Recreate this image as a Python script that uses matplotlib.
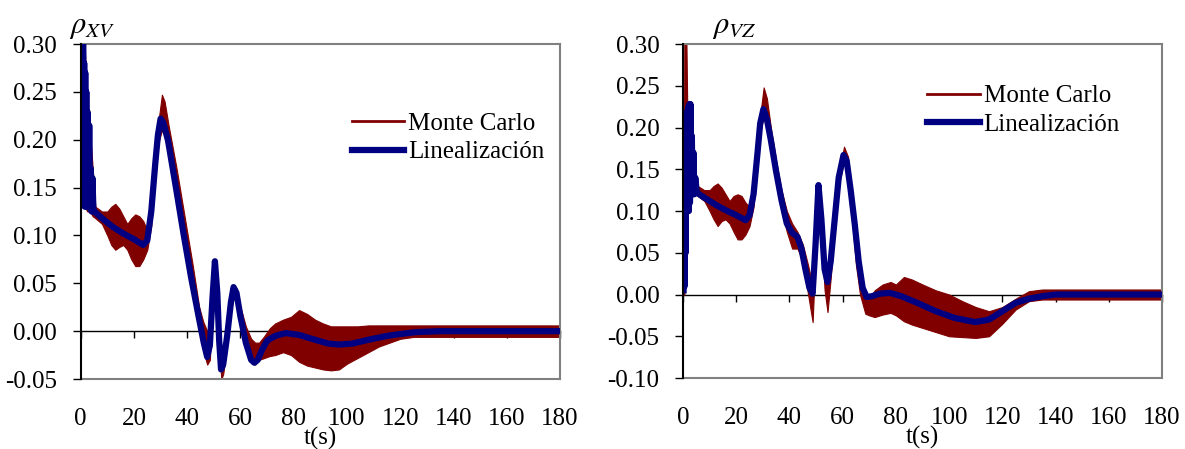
import matplotlib
matplotlib.use("Agg")
import matplotlib.pyplot as plt
from matplotlib.lines import Line2D

plt.rcParams['font.family'] = ['Liberation Serif', 'DejaVu Serif']
plt.rcParams['mathtext.fontset'] = 'stix'

# ---------------- data : rho_XV ----------------
t_lin_xv = [0.1, 0.3, 0.5, 0.7, 0.9, 1.1, 1.3, 1.5, 1.7, 1.9, 2.1, 2.3, 2.6, 2.9, 3.2, 3.5, 3.8, 4.1,
            4.4, 4.8, 5.5, 8, 12, 16, 20, 23.5, 25, 26.5, 28, 29, 30, 31, 32.8, 35.7, 38.6, 41.4, 44.3,
            46.2, 47.5, 48.5, 49.5, 50.4, 51.3, 52.0, 52.7, 53.5, 55, 56.4, 57.4, 58.5, 60, 62, 64, 65.2,
            66.5, 68, 70, 73, 77, 82, 88, 93, 97, 102, 108, 115, 120, 126, 135, 150, 165, 180]
lin_xv = [0.32, 0.14, 0.31, 0.135, 0.30, 0.135, 0.28, 0.13, 0.27, 0.135, 0.25, 0.13, 0.229, 0.13, 0.215,
          0.128, 0.17, 0.125, 0.16, 0.125, 0.124, 0.118, 0.109, 0.102, 0.096, 0.090, 0.095, 0.125, 0.175,
          0.205, 0.222, 0.218, 0.199, 0.151, 0.102, 0.057, 0.015, -0.012, -0.027, -0.015, 0.035, 0.073,
          0.04, -0.01, -0.040, -0.035, -0.005, 0.03, 0.046, 0.04, 0.015, -0.012, -0.03, -0.033, -0.03,
          -0.02, -0.01, -0.005, -0.002, -0.004, -0.009, -0.013, -0.014, -0.013, -0.009, -0.005, -0.003,
          -0.001, 0.0, 0.0, 0.0, 0.0]

t_mc_xv = [0.1, 0.5, 1.5, 2.5, 3.5, 4.5, 5.5, 8, 10, 11.5, 13, 14.5, 16, 17.5, 19, 20.5, 22, 23.5, 25,
           26.5, 28, 29, 30.5, 31.5, 33, 36, 39, 42, 44.5, 46, 47.5, 48.5, 49.5, 50.4, 51.3, 52, 52.8,
           53.5, 55, 56.4, 57.4, 58.5, 60, 62, 64, 65.5, 67, 69, 71, 73, 76, 79, 82, 85, 88, 91, 94, 97,
           100, 104, 108, 112, 116, 120, 125, 130, 180]
mc_xv_up = [0.32, 0.32, 0.30, 0.23, 0.21, 0.17, 0.13, 0.125, 0.125, 0.13, 0.133, 0.128, 0.12, 0.112,
            0.118, 0.122, 0.12, 0.115, 0.105, 0.13, 0.185, 0.215, 0.247, 0.24, 0.215, 0.17, 0.12, 0.07,
            0.025, 0.01, 0.0, 0.005, 0.04, 0.075, 0.05, 0.0, -0.03, -0.025, 0.005, 0.035, 0.048, 0.045,
            0.025, 0.005, -0.008, -0.012, -0.012, -0.005, 0.003, 0.008, 0.012, 0.015, 0.022, 0.018, 0.012,
            0.008, 0.005, 0.005, 0.005, 0.005, 0.006, 0.006, 0.006, 0.006, 0.006, 0.006, 0.006]
mc_xv_lo = [0.13, 0.13, 0.13, 0.125, 0.125, 0.12, 0.118, 0.112, 0.10, 0.09, 0.085, 0.088, 0.09, 0.085,
            0.075, 0.068, 0.068, 0.075, 0.085, 0.11, 0.165, 0.195, 0.21, 0.205, 0.19, 0.14, 0.09, 0.045,
            0.0, -0.02, -0.035, -0.03, 0.025, 0.065, 0.03, -0.02, -0.05, -0.045, -0.015, 0.02, 0.035,
            0.032, 0.005, -0.018, -0.03, -0.035, -0.03, -0.028, -0.026, -0.025, -0.022, -0.025, -0.032,
            -0.036, -0.038, -0.040, -0.041, -0.040, -0.034, -0.028, -0.022, -0.016, -0.012, -0.008,
            -0.006, -0.006, -0.006]

# ---------------- data : rho_VZ ----------------
t_lin_vz = [0.2, 0.4, 0.6, 0.8, 1.0, 1.2, 1.4, 1.6, 1.8, 2.0, 2.2, 2.4, 2.6, 2.8, 3.0, 3.3, 3.6, 3.9, 4.2,
            4.6, 5.2, 8, 12, 16, 20, 23.5, 25, 26.5, 28, 29, 30.2, 31.5, 33, 35, 37, 39, 41, 43, 44.5, 46,
            47.5, 48.7, 49.8, 50.9, 52, 53.2, 54.3, 55.5, 57, 58.5, 60.3, 61.5, 63, 64.5, 66, 67.5, 69, 71,
            74, 77.7, 82, 88, 95, 102, 109.8, 115, 120, 125, 130, 135, 140, 150, 165, 180]
lin_vz = [0.005, 0.18, 0.01, 0.20, 0.05, 0.21, 0.10, 0.22, 0.10, 0.225, 0.10, 0.228, 0.11, 0.228, 0.12,
          0.19, 0.12, 0.17, 0.12, 0.14, 0.122, 0.116, 0.108, 0.101, 0.095, 0.089, 0.095, 0.12, 0.17, 0.205,
          0.222, 0.21, 0.185, 0.147, 0.113, 0.085, 0.074, 0.069, 0.055, 0.03, 0.008, 0.001, 0.06, 0.131,
          0.09, 0.03, 0.015, 0.04, 0.09, 0.14, 0.167, 0.16, 0.125, 0.085, 0.04, 0.008, -0.003, -0.002,
          0.001, 0.002, -0.002, -0.01, -0.02, -0.028, -0.033, -0.030, -0.02, -0.01, -0.005, -0.002, 0.0,
          0.0, 0.0, 0.0]

t_mc_vz = [0.2, 0.5, 1.2, 1.6, 2.5, 3.5, 4.5, 5.5, 8, 10, 11.5, 13, 14.5, 16, 17.5, 19, 20.5, 22, 23.5,
           25, 26.5, 28, 29, 30.3, 31.5, 33, 35, 37, 39, 41, 43, 45, 47, 48.7, 49.8, 50.9, 52, 53.2, 54.3,
           55.5, 57, 58.5, 60.5, 62, 63.5, 65, 66.5, 68.5, 70, 72, 75, 78, 80, 83, 86, 90, 95, 100, 105,
           110, 115, 120, 125, 130, 135, 180]
mc_vz_up = [0.01, 0.32, 0.32, 0.22, 0.23, 0.19, 0.15, 0.13, 0.125, 0.125, 0.13, 0.133, 0.128, 0.12,
            0.112, 0.118, 0.12, 0.118, 0.11, 0.105, 0.125, 0.18, 0.215, 0.248, 0.235, 0.20, 0.16, 0.125,
            0.10, 0.085, 0.075, 0.06, 0.035, 0.01, 0.06, 0.13, 0.10, 0.04, 0.02, 0.045, 0.095, 0.145,
            0.177, 0.165, 0.12, 0.07, 0.03, 0.0, -0.005, 0.005, 0.012, 0.015, 0.012, 0.021, 0.018, 0.012,
            0.005, 0.0, -0.008, -0.015, -0.02, -0.015, -0.005, 0.004, 0.006, 0.006]
mc_vz_lo = [0.0, 0.0, 0.10, 0.10, 0.10, 0.12, 0.12, 0.118, 0.112, 0.10, 0.09, 0.082, 0.088, 0.09, 0.085,
            0.075, 0.066, 0.066, 0.072, 0.082, 0.105, 0.16, 0.195, 0.212, 0.20, 0.17, 0.135, 0.10, 0.075,
            0.055, 0.055, 0.04, 0.0, -0.033, 0.05, 0.12, 0.07, 0.005, -0.021, 0.02, 0.08, 0.13, 0.16,
            0.14, 0.09, 0.035, 0.0, -0.023, -0.025, -0.027, -0.024, -0.022, -0.025, -0.032, -0.036,
            -0.04, -0.045, -0.05, -0.051, -0.052, -0.05, -0.035, -0.018, -0.008, -0.006, -0.006]

xticks = [0, 20, 40, 60, 80, 100, 120, 140, 160, 180]
yticks_xv = [-0.05, 0.0, 0.05, 0.10, 0.15, 0.20, 0.25, 0.30]
yticks_vz = [-0.10, -0.05, 0.0, 0.05, 0.10, 0.15, 0.20, 0.25, 0.30]
labels = ['Monte Carlo', 'Linealización']

RED = '#800000'
BLUE = '#000080'
FS = 18

fig = plt.figure(figsize=(11.85, 4.49), dpi=100)
ax1 = fig.add_axes([0.0681, 0.1559, 0.4045, 0.7461])
ax2 = fig.add_axes([0.5764, 0.1581, 0.4042, 0.7439])


def draw(ax, t_mc, lo, up, t_lin, lin, yticks, title, title_x, leg_anchor):
    ax.fill_between(t_mc, lo, up, color=RED, lw=0.8, zorder=2)
    ax.plot(t_lin, lin, color=BLUE, lw=4.5, zorder=3, solid_joinstyle='round')
    ymin, ymax = yticks[0], yticks[-1]
    ax.set_xlim(0, 180)
    ax.set_ylim(ymin, ymax)
    ax.set_yticks(yticks)
    ax.set_yticklabels([f'{v:.2f}' for v in yticks], fontsize=FS)
    ax.tick_params(axis='y', direction='out', length=6, width=1, pad=11, colors='black')
    ax.set_xticks(xticks)
    ax.set_xticklabels([str(v) for v in xticks], fontsize=FS)
    ax.tick_params(axis='x', length=0, pad=21)
    for s in ['top', 'right', 'bottom']:
        ax.spines[s].set_color('#808080')
        ax.spines[s].set_linewidth(1.5)
    ax.spines['left'].set_color('black')
    ax.spines['left'].set_linewidth(1.5)
    ax.spines['left'].set_zorder(4)
    # zero axis line with downward tick marks
    frac = (0 - ymin) / (ymax - ymin)
    sec = ax.secondary_xaxis(frac)
    sec.set_xticks(xticks)
    sec.tick_params(axis='x', direction='out', length=5, width=1, labelbottom=False, colors='black')
    sec.spines['bottom'].set_color('black')
    sec.spines['bottom'].set_linewidth(1.0)
    ax.text(0.5, -0.177, 't(s)', transform=ax.transAxes, ha='center', va='center', fontsize=FS)
    ax.text(title_x, 1.01, title, transform=ax.transAxes, ha='left', va='bottom', fontsize=22)
    handles = [Line2D([0], [0], color=RED, lw=2), Line2D([0], [0], color=BLUE, lw=4.5)]
    ax.legend(handles, labels, loc='upper left', bbox_to_anchor=leg_anchor, frameon=False,
              fontsize=FS, handlelength=2.1, handletextpad=0.15, labelspacing=0.25, borderpad=0,
              borderaxespad=0)


draw(ax1, t_mc_xv, mc_xv_lo, mc_xv_up, t_lin_xv, lin_xv, yticks_xv, r'$\rho_{XV}$', -0.025,
     (0.565, 0.797))
draw(ax2, t_mc_vz, mc_vz_lo, mc_vz_up, t_lin_vz, lin_vz, yticks_vz, r'$\rho_{VZ}$', 0.06,
     (0.51, 0.878))

fig.savefig('out.png', dpi=100)
